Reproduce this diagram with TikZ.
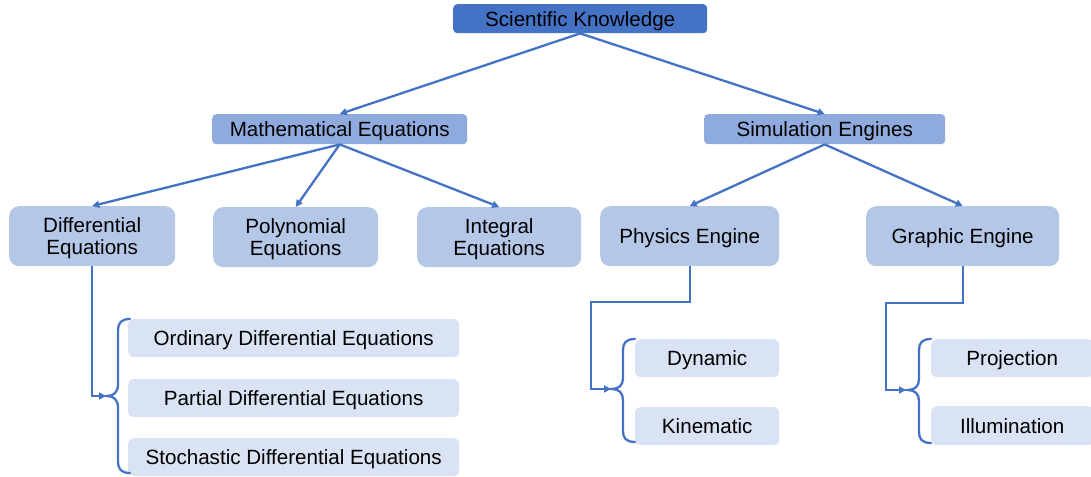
\documentclass[tikz,border=0pt]{standalone}
\usepackage{fontspec}
\setmainfont{Liberation Sans}
\usetikzlibrary{arrows.meta}
\definecolor{cdark}{HTML}{4472C4}
\definecolor{cmid}{HTML}{8FAADC}
\definecolor{clight}{HTML}{B4C7E7}
\definecolor{cleaf}{HTML}{DAE3F3}
\tikzset{
  base/.style={anchor=north west, inner sep=0pt, align=center, text depth=0pt, font=\fontsize{20.6}{21.5}\selectfont, text=black},
  topbox/.style={base, fill=cdark, rounded corners=4pt},
  midbox/.style={base, fill=cmid, rounded corners=4pt},
  engbox/.style={base, fill=clight, rounded corners=10pt},
  leafbox/.style={base, fill=cleaf, rounded corners=5pt},
  link/.style={draw=cdark, line width=2.3pt},
  arr/.style={link, -{Triangle[length=7pt,width=7pt]}},
  brace/.style={draw=cdark, line width=2.3pt, line cap=round},
}
\begin{document}
\begin{tikzpicture}[x=1pt,y=-1pt]
\useasboundingbox (0,0) rectangle (1091,476);
% nodes
\node[topbox, minimum width=254pt, minimum height=29pt] (sk) at (453,4) {Scientific Knowledge};
\node[midbox, minimum width=255pt, minimum height=30pt] (math) at (212,114) {Mathematical Equations};
\node[midbox, minimum width=241pt, minimum height=30pt] (sim) at (704,114) {Simulation Engines};
\node[engbox, minimum width=166pt, minimum height=60pt] (diff) at (9,206) {Differential\\Equations};
\node[engbox, minimum width=165pt, minimum height=60pt] (poly) at (213,207) {Polynomial\\Equations};
\node[engbox, minimum width=164pt, minimum height=60pt] (integ) at (417,207) {Integral\\Equations};
\node[engbox, minimum width=179pt, minimum height=60pt] (phys) at (600,206) {Physics Engine};
\node[engbox, minimum width=193pt, minimum height=60pt] (graph) at (866,206) {Graphic Engine};
\node[leafbox, minimum width=331pt, minimum height=38pt] (ode) at (128,319) {Ordinary Differential Equations};
\node[leafbox, minimum width=331pt, minimum height=38pt] (pde) at (128,379) {Partial Differential Equations};
\node[leafbox, minimum width=331pt, minimum height=38pt] (sde) at (128,438) {Stochastic Differential Equations};
\node[leafbox, minimum width=144pt, minimum height=38pt] (dyn) at (635,339) {Dynamic};
\node[leafbox, minimum width=144pt, minimum height=38pt] (kin) at (635,407) {Kinematic};
\node[leafbox, minimum width=162pt, minimum height=38pt] (proj) at (931,339) {Projection};
\node[leafbox, minimum width=162pt, minimum height=39pt] (illu) at (931,406) {Illumination};
% tree connectors
\draw[arr] (sk.south) -- (math.north);
\draw[arr] (sk.south) -- (sim.north);
\draw[arr] (math.south) -- (diff.north);
\draw[arr] (math.south) -- (poly.north);
\draw[arr] (math.south) -- (integ.north);
\draw[arr] (sim.south) -- (phys.north);
\draw[arr] (sim.south) -- (graph.north);
% elbow connectors
\coordinate (b1) at (106,396);
\coordinate (p1) at (591,302);
\coordinate (b2) at (611,389);
\coordinate (g1) at (886,303);
\coordinate (b3) at (906,390);
\draw[arr] (diff.south) |- (b1);
\draw[arr] (phys.south) |- (p1) |- (b2);
\draw[arr] (graph.south) |- (g1) |- (b3);
% braces
\draw[brace] (130,319) .. controls (121,319) and (118,323) .. (118,331) -- (118,384)
  .. controls (118,392) and (114,396) .. (107,396)
  .. controls (114,396) and (118,400) .. (118,408) -- (118,461)
  .. controls (118,469) and (121,473) .. (130,473);
\draw[brace] (635,339) .. controls (626,339) and (623,343) .. (623,350) -- (623,378)
  .. controls (623,385) and (619,389) .. (612,389)
  .. controls (619,389) and (623,393) .. (623,400) -- (623,431)
  .. controls (623,438) and (626,442) .. (635,442);
\draw[brace] (931,339) .. controls (922,339) and (919,343) .. (919,350) -- (919,379)
  .. controls (919,386) and (915,390) .. (908,390)
  .. controls (915,390) and (919,394) .. (919,401) -- (919,432)
  .. controls (919,439) and (922,443) .. (931,443);
\end{tikzpicture}
\end{document}
